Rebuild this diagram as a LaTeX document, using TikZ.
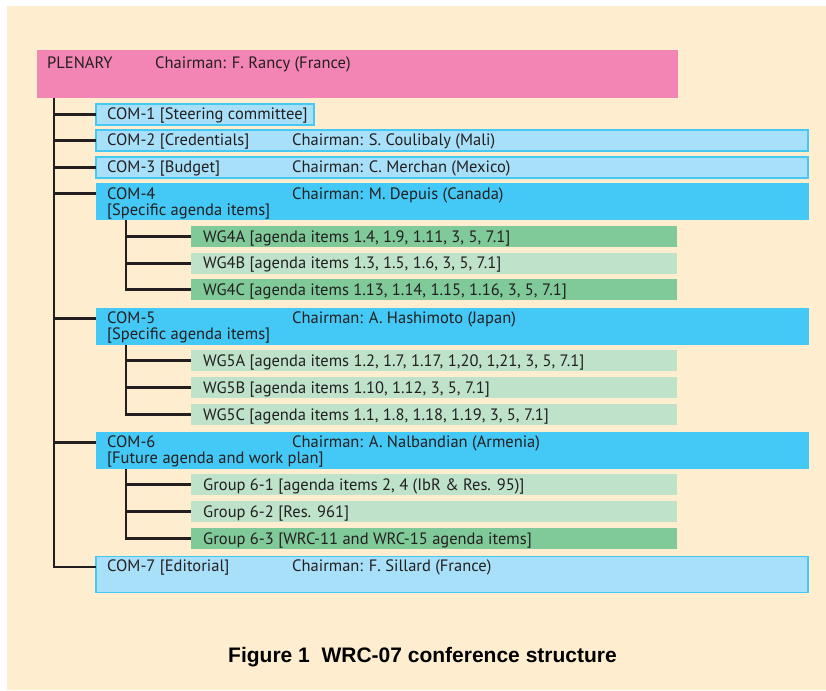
\documentclass[tikz,border=0pt]{standalone}
\usepackage{fontspec}
\setmainfont{PT Sans}
\newfontfamily\capfont{Liberation Sans}
\definecolor{cream}{HTML}{FEEDCE}
\definecolor{plenpink}{HTML}{F285B4}
\definecolor{palecyan}{HTML}{A8E0F9}
\definecolor{edgecyan}{HTML}{45C8F4}
\definecolor{deepcyan}{HTML}{44C8F5}
\definecolor{darkgreen}{HTML}{80CA9A}
\definecolor{palegreen}{HTML}{BEE3CA}
\definecolor{ink}{HTML}{231F20}
\begin{document}
\begin{tikzpicture}[x=1pt,y=-1pt,
  box/.style={anchor=north west, inner sep=0pt, outer sep=0pt},
  plenbox/.style={box, fill=plenpink, minimum width=641pt, minimum height=48pt},
  lightcom/.style={box, fill=palecyan, draw=edgecyan, line width=1.2pt, minimum width=712pt, minimum height=21pt},
  bigcom/.style={box, fill=deepcyan, minimum width=713pt, minimum height=37pt},
  wgdark/.style={box, fill=darkgreen, minimum width=486pt, minimum height=21pt},
  wglight/.style={box, fill=palegreen, minimum width=486pt, minimum height=21pt},
  lbl/.style={anchor=base west, inner sep=0pt, text=ink, font=\fontsize{16.5}{16}\selectfont},
  tree/.style={draw=ink, line width=2.6pt}]
\useasboundingbox (0,0) rectangle (826,690);
\fill[cream] (7,6) rectangle (826,690);
% plenary
\node[plenbox] (plen) at (37,50) {};
\node[lbl] (plent) at (47,68.3) {PLENARY};
\node[lbl] (plenc) at (155,68.3) {Chairman: F. Rancy (France)};
% committees
\node[lightcom, minimum width=218pt] (com1) at (96,104) {};
\node[lbl] (com1t) at (107,119.3) {COM-1 [Steering committee]};
\node[lightcom] (com2) at (96,130) {};
\node[lbl] (com2t) at (107,145.8) {COM-2 [Credentials]};
\node[lbl] (com2c) at (292,145.8) {Chairman: S. Coulibaly (Mali)};
\node[lightcom] (com3) at (96,157) {};
\node[lbl] (com3t) at (107,172.6) {COM-3 [Budget]};
\node[lbl] (com3c) at (292,172.6) {Chairman: C. Merchan (Mexico)};
\node[bigcom] (com4) at (96,183) {};
\node[lbl] (com4t) at (107,199) {COM-4};
\node[lbl] (com4s) at (107,215) {[Specific agenda items]};
\node[lbl] (com4c) at (292,199) {Chairman: M. Depuis (Canada)};
\node[wgdark] (wg4a) at (191,226) {};
\node[lbl] (wg4at) at (203,242) {WG4A [agenda items 1.4, 1.9, 1.11, 3, 5, 7.1]};
\node[wglight] (wg4b) at (191,253) {};
\node[lbl] (wg4bt) at (203,268.5) {WG4B [agenda items 1.3, 1.5, 1.6, 3, 5, 7.1]};
\node[wgdark] (wg4c) at (191,279) {};
\node[lbl] (wg4ct) at (203,295) {WG4C [agenda items 1.13, 1.14, 1.15, 1.16, 3, 5, 7.1]};
\node[bigcom] (com5) at (96,308) {};
\node[lbl] (com5t) at (107,323.5) {COM-5};
\node[lbl] (com5s) at (107,339.5) {[Specific agenda items]};
\node[lbl] (com5c) at (292,323.5) {Chairman: A. Hashimoto (Japan)};
\node[wglight] (wg5a) at (191,350) {};
\node[lbl] (wg5at) at (203,366) {WG5A [agenda items 1.2, 1.7, 1.17, 1,20, 1,21, 3, 5, 7.1]};
\node[wglight] (wg5b) at (191,377) {};
\node[lbl] (wg5bt) at (203,393) {WG5B [agenda items 1.10, 1.12, 3, 5, 7.1]};
\node[wglight] (wg5c) at (191,404) {};
\node[lbl] (wg5ct) at (203,420) {WG5C [agenda items 1.1, 1.8, 1.18, 1.19, 3, 5, 7.1]};
\node[bigcom] (com6) at (96,432) {};
\node[lbl] (com6t) at (107,447.5) {COM-6};
\node[lbl] (com6s) at (107,463.5) {[Future agenda and work plan]};
\node[lbl] (com6c) at (292,447.5) {Chairman: A. Nalbandian (Armenia)};
\node[wglight] (g61) at (191,474) {};
\node[lbl] (g61t) at (203,490) {Group 6-1 [agenda items 2, 4 (IbR \& Res. 95)]};
\node[wglight] (g62) at (191,501) {};
\node[lbl] (g62t) at (203,517) {Group 6-2 [Res. 961]};
\node[wgdark] (g63) at (191,528) {};
\node[lbl] (g63t) at (203,544) {Group 6-3 [WRC-11 and WRC-15 agenda items]};
\node[lightcom, minimum height=36pt] (com7) at (96,556.5) {};
\node[lbl] (com7t) at (107,571.7) {COM-7 [Editorial]};
\node[lbl] (com7c) at (292,571.7) {Chairman: F. Sillard (France)};
% tree lines
\coordinate (trunk) at ([xshift=17pt]plen.south west);
\foreach \c in {com1,com2,com3,com4,com5,com6,com7}
  \coordinate (\c br) at ([yshift=-10.5pt]\c.north west);
\draw[tree] (trunk) |- (com7br);
\foreach \c in {com1,com2,com3,com4,com5,com6}
  \draw[tree] (trunk |- \c br) -- (\c br);
\coordinate (sub4) at ([xshift=30pt]com4.south west);
\coordinate (sub5) at ([xshift=30pt]com5.south west);
\coordinate (sub6) at ([xshift=30pt]com6.south west);
\draw[tree] (sub4) |- (wg4c.west);
\draw[tree] (sub5) |- (wg5c.west);
\draw[tree] (sub6) |- (g63.west);
\foreach \w/\s in {wg4a/sub4,wg4b/sub4,wg5a/sub5,wg5b/sub5,g61/sub6,g62/sub6}
  \draw[tree] (\s |- \w.west) -- (\w.west);
% caption
\node[anchor=base, inner sep=0pt, font=\capfont\bfseries\fontsize{21}{24}\selectfont] (cap) at (422.5,662) {Figure 1\ \ WRC-07 conference structure};
\end{tikzpicture}
\end{document}
